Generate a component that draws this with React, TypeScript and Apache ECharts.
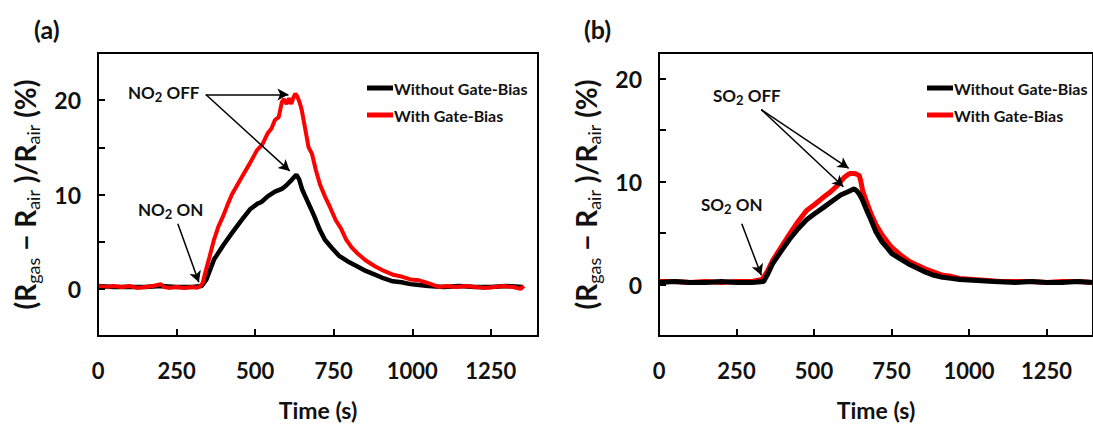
import React, { useEffect, useRef } from "react";
import * as echarts from "echarts";

const timeTicks = [0, 250, 500, 750, 1000, 1250];
const yLabelValues = [0, 10, 20];
const seriesNames = ["Without Gate-Bias", "With Gate-Bias"];

// Panel (a) NO2: [time s, response %]
const no2WithoutBias = [
  [0, 0.3], [50, 0.2], [100, 0.2], [150, 0.2], [200, 0.3], [250, 0.2], [300, 0.2], [330, 0.3],
  [345, 1.0], [369, 3.1], [398, 4.6], [426, 5.9], [455, 7.2], [483, 8.4], [506, 9.0], [520, 9.2],
  [540, 9.8], [563, 10.3], [585, 10.6], [597, 10.9], [615, 11.5], [631, 12.1], [640, 11.6],
  [650, 10.5], [665, 9.4], [676, 8.6], [688, 7.7], [705, 6.3], [722, 5.2], [745, 4.3], [767, 3.5],
  [795, 2.9], [824, 2.4], [852, 1.9], [881, 1.5], [910, 1.1], [938, 0.8], [966, 0.7], [994, 0.5],
  [1022, 0.4], [1051, 0.3], [1100, 0.2], [1150, 0.3], [1200, 0.2], [1250, 0.2], [1300, 0.3], [1350, 0.2],
];
const no2WithBias = [
  [0, 0.3], [25, 0.2], [50, 0.3], [75, 0.2], [100, 0.3], [125, 0.1], [150, 0.2], [175, 0.3],
  [200, 0.5], [210, 0.2], [225, 0.1], [250, 0.2], [275, 0.1], [300, 0.2], [315, 0.1], [325, 0.3],
  [333, 0.6], [341, 1.7], [355, 3.4], [369, 5.2], [383, 6.6], [398, 7.7], [412, 8.9], [426, 10.0],
  [455, 11.7], [483, 13.3], [506, 14.7], [523, 15.3], [540, 16.5], [552, 17.0], [563, 17.9],
  [575, 18.2], [585, 19.8], [592, 20.1], [600, 19.6], [608, 20.2], [615, 19.6], [622, 20.3],
  [628, 20.7], [634, 20.4], [641, 19.8], [648, 19.0], [659, 17.0], [670, 15.0], [681, 14.3],
  [693, 12.6], [707, 11.0], [722, 9.8], [739, 8.6], [756, 7.3], [773, 6.4], [790, 5.2], [807, 4.4],
  [824, 3.8], [852, 3.0], [881, 2.4], [910, 1.9], [938, 1.5], [966, 1.3], [994, 1.0], [1022, 0.9],
  [1051, 0.6], [1068, 0.4], [1085, 0.2], [1110, 0.3], [1140, 0.2], [1170, 0.3], [1200, 0.2],
  [1230, 0.1], [1260, 0.2], [1290, 0.3], [1320, 0.2], [1345, 0.0], [1355, 0.3],
];

// Panel (b) SO2
const so2WithoutBias = [
  [0, 0.2], [50, 0.3], [100, 0.2], [150, 0.2], [200, 0.3], [250, 0.2], [300, 0.2], [338, 0.3],
  [352, 1.1], [366, 2.0], [393, 3.2], [421, 4.4], [448, 5.4], [476, 6.3], [503, 6.9], [531, 7.5],
  [558, 8.1], [586, 8.7], [608, 9.0], [630, 9.3], [638, 9.1], [646, 8.8], [655, 8.3], [662, 7.8],
  [673, 7.0], [685, 6.2], [700, 5.1], [718, 4.2], [735, 3.6], [751, 3.0], [778, 2.5], [805, 2.0],
  [832, 1.6], [860, 1.2], [887, 0.9], [915, 0.7], [942, 0.6], [970, 0.5], [1025, 0.4], [1080, 0.3],
  [1150, 0.2], [1200, 0.3], [1250, 0.2], [1300, 0.2], [1350, 0.3], [1400, 0.2],
];
const so2WithBias = [
  [0, 0.3], [50, 0.3], [100, 0.2], [150, 0.3], [200, 0.2], [250, 0.3], [300, 0.3], [333, 0.5],
  [350, 1.3], [366, 2.3], [393, 3.6], [421, 4.9], [448, 6.1], [476, 7.2], [503, 7.8], [531, 8.5],
  [553, 9.0], [575, 9.6], [597, 10.4], [610, 10.7], [619, 10.8], [632, 10.8], [646, 10.6],
  [652, 9.9], [657, 9.1], [670, 8.0], [685, 6.8], [700, 5.8], [718, 4.9], [735, 4.2], [751, 3.6],
  [778, 2.9], [805, 2.3], [832, 1.9], [860, 1.5], [887, 1.2], [915, 0.9], [942, 0.8], [970, 0.6],
  [1014, 0.5], [1058, 0.4], [1100, 0.3], [1150, 0.3], [1200, 0.3], [1250, 0.2], [1300, 0.3],
  [1350, 0.3], [1400, 0.2],
];

// annotation arrows in data coordinates: [fromT, fromV, toT, toV]
const no2Arrows = [
  [343, 20.6, 606, 20.6],
  [343, 20.6, 610, 12.5],
  [254, 6.9, 321, 0.7],
];
const so2Arrows = [
  [330, 17.0, 612, 11.3],
  [330, 17.0, 595, 9.5],
  [267, 5.9, 330, 0.9],
];

const FONT = "Lato";
const INK = "#111";

const yName = "{b|(R}{s|gas}{b| − R}{s|air}{b| )/R}{s|air}{b| (%)}";
const yRich = {
  b: { fontSize: 28, fontWeight: "bold", fontFamily: FONT, color: INK, lineHeight: 34, verticalAlign: "middle" },
  s: { fontSize: 18, fontWeight: "normal", fontFamily: FONT, color: INK, lineHeight: 18, verticalAlign: "bottom" },
};

function arrowLines(arr: number[][]) {
  return arr.map((a) => [{ coord: [a[0], a[1]] }, { coord: [a[2], a[3]] }]);
}

function xAxisCfg(gridIndex: number) {
  return {
    type: "value",
    gridIndex,
    min: 0,
    max: 1400,
    interval: 250,
    name: "Time (s)",
    nameLocation: "middle",
    nameGap: 62,
    nameTextStyle: { fontSize: 23, fontWeight: "bold", fontFamily: FONT, color: INK },
    axisLine: { show: true, onZero: false, lineStyle: { color: "#000", width: 2 } },
    axisTick: { show: true, inside: true, length: 7, lineStyle: { color: "#000", width: 2 } },
    axisLabel: {
      fontSize: 22, fontWeight: "bold", fontFamily: FONT, color: INK, margin: 23,
      showMaxLabel: false,
      formatter: (v: number) => (timeTicks.indexOf(v) >= 0 ? String(v) : ""),
    },
    splitLine: { show: false },
    z: 10,
  };
}

function yAxisCfg(gridIndex: number, max: number) {
  return {
    type: "value",
    gridIndex,
    min: -5,
    max,
    interval: 5,
    name: yName,
    nameLocation: "middle",
    nameRotate: 90,
    nameGap: 56,
    nameTextStyle: { rich: yRich },
    axisLine: { show: true, onZero: false, lineStyle: { color: "#000", width: 2 } },
    axisTick: { show: true, inside: true, length: 7, lineStyle: { color: "#000", width: 2 } },
    axisLabel: {
      fontSize: 23, fontWeight: "bold", fontFamily: FONT, color: INK, margin: 17,
      formatter: (v: number) => (yLabelValues.indexOf(v) >= 0 ? String(v) : ""),
    },
    splitLine: { show: false },
    z: 10,
  };
}

function lineSeries(name: string, data: number[][], color: string, idx: number, z: number, width: number, arrows?: number[][]) {
  const s: any = {
    type: "line",
    name,
    data,
    xAxisIndex: idx,
    yAxisIndex: idx,
    showSymbol: false,
    symbol: "none",
    lineStyle: { color, width },
    itemStyle: { color },
    z,
  };
  if (arrows) {
    s.markLine = {
      silent: true,
      symbol: ["none", "arrow"],
      symbolSize: [9, 11],
      label: { show: false },
      lineStyle: { color: "#000", width: 1.5, type: "solid" },
      data: arrowLines(arrows),
    };
  }
  return s;
}

const annoRich = {
  t: { fontSize: 17, fontWeight: "bold", fontFamily: FONT, fill: INK, lineHeight: 22, verticalAlign: "middle" },
  s: { fontSize: 13, fontWeight: "bold", fontFamily: FONT, fill: INK, lineHeight: 13, verticalAlign: "bottom" },
};

function anno(text: string, x: number, y: number) {
  return { type: "text", left: x, top: y - 11, style: { text, rich: annoRich, fontFamily: FONT } };
}

const legendCfg = (left: number) => ({
  orient: "vertical",
  left,
  top: 75,
  itemWidth: 26,
  itemHeight: 5,
  itemGap: 11,
  icon: "rect",
  data: seriesNames,
  textStyle: { fontSize: 16, fontWeight: "bold", fontFamily: FONT, color: INK, padding: [0, 0, 0, -4] },
  selectedMode: false,
});

export default function App() {
  const ref = useRef<HTMLDivElement>(null);
  useEffect(() => {
    if (!ref.current) return;
    const chart = echarts.init(ref.current, null, { renderer: "svg" });
    const option: any = {
      animation: false,
      backgroundColor: "#fff",
      grid: [
        { left: 98, top: 53, width: 440, height: 283, show: true, borderColor: "#000", borderWidth: 2, backgroundColor: "transparent" },
        { left: 659, top: 53, width: 441, height: 284, show: true, borderColor: "#000", borderWidth: 2, backgroundColor: "transparent" },
      ],
      xAxis: [xAxisCfg(0), xAxisCfg(1)],
      yAxis: [yAxisCfg(0, 25), yAxisCfg(1, 22.5)],
      legend: [legendCfg(362), legendCfg(922)],
      series: [
        lineSeries(seriesNames[0], no2WithoutBias, "#000000", 0, 2, 4.5, no2Arrows),
        lineSeries(seriesNames[1], no2WithBias, "#ff0000", 0, 3, 4),
        lineSeries(seriesNames[1], so2WithBias, "#ff0000", 1, 2, 5, so2Arrows),
        lineSeries(seriesNames[0], so2WithoutBias, "#000000", 1, 3, 5),
      ],
      graphic: [
        { type: "text", left: 34, top: 16, style: { text: "(a)", fontSize: 25, fontWeight: "bold", fontFamily: FONT, fill: INK } },
        { type: "text", left: 584, top: 16, style: { text: "(b)", fontSize: 25, fontWeight: "bold", fontFamily: FONT, fill: INK } },
        anno("{t|NO}{s|2}{t| OFF}", 128, 95),
        anno("{t|NO}{s|2}{t| ON}", 138, 212),
        anno("{t|SO}{s|2}{t| OFF}", 713, 98),
        anno("{t|SO}{s|2}{t| ON}", 701, 207),
      ],
    };
    chart.setOption(option);
    return () => chart.dispose();
  }, []);
  return <div ref={ref} style={{ width: 1093, height: 426, position: "absolute", left: 0, top: 0 }} />;
}
